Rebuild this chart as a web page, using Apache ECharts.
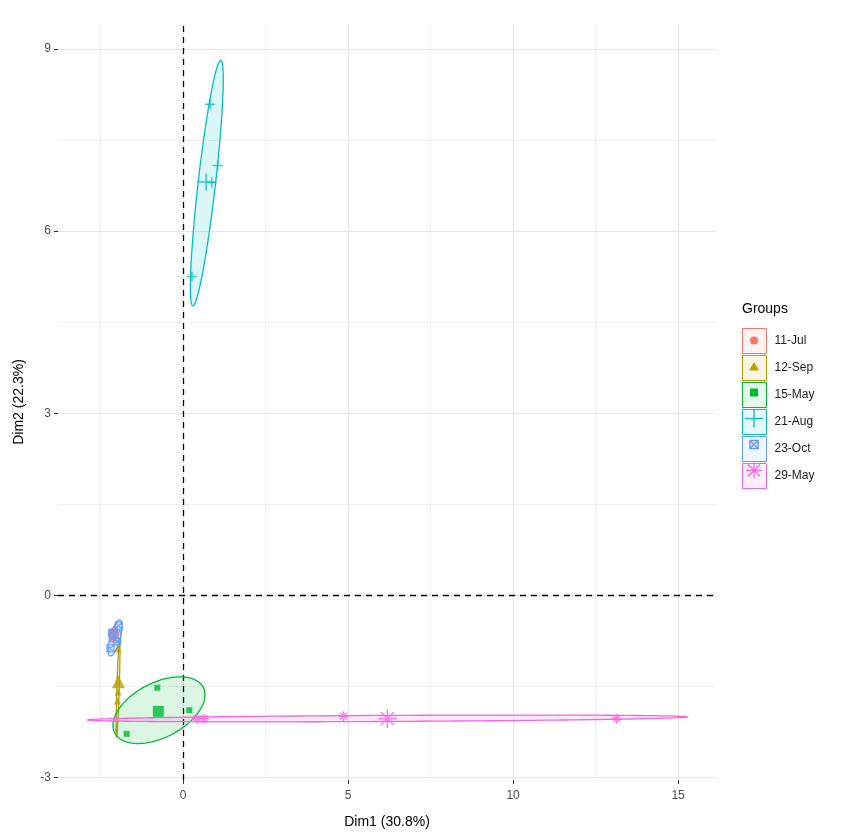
<!DOCTYPE html>
<html><head><meta charset="utf-8">
<script src="https://cdn.jsdelivr.net/npm/echarts@6/dist/echarts.min.js"></script>
<style>html,body{margin:0;padding:0;background:#fff}#c{width:843px;height:834px}</style>
</head><body><div id="c"></div>
<script>
const groups = ['11-Jul','12-Sep','15-May','21-Aug','23-Oct','29-May'];
const colors = ['#F8766D','#B79F00','#00BA38','#00BFC4','#619CFF','#F564E3'];

// individuals
const jul11X = [-2.12, -2.09, -2.05];
const jul11Y = [-0.58, -0.70, -0.64];
const sep12X = [-1.98, -1.97, -1.99];
const sep12Y = [-0.88, -1.59, -1.74];
const may15X = [-0.78, 0.19, -1.71];
const may15Y = [-1.52, -1.89, -2.28];
const aug21X = [0.82, 1.05, 0.87, 0.27];
const aug21Y = [8.09, 7.08, 6.80, 5.25];
const oct23X = [-1.95, -2.20, -2.00, -2.15];
const oct23Y = [-0.50, -0.87, -0.76, -0.62];
const may29X = [0.42, 0.64, 4.86, 13.14];
const may29Y = [-2.03, -2.03, -1.99, -2.03];

// group means
const meanX = [-2.10, -1.96, -0.75, 0.70, -2.06, 6.19];
const meanY = [-0.64, -1.42, -1.91, 6.81, -0.67, -2.03];

// ellipses: centre + two conjugate semi-axis vectors (data units)
const ellCX = [-2.10, -1.97, -0.73, 0.72, -2.06, 6.20];
const ellCY = [-0.64, -1.53, -1.89, 6.79, -0.70, -2.026];
const ellUX = [0.06, 0.045, 1.34, 0.424, 0.15, 9.09];
const ellUY = [0.13, 0.805, 0.376, 2.021, 0.296, 0.025];
const ellVX = [0.09, 0.036, 0.383, 0.262, 0.15, 0];
const ellVY = [-0.012, 0, -0.401, -0.016, -0.02, -0.05];

// axes
const xTicks = [0, 5, 10, 15];
const yTicks = [-3, 0, 3, 6, 9];
const xMinor = [-2.5, 2.5, 7.5, 12.5];
const yMinor = [-1.5, 1.5, 4.5, 7.5];
const xRange = [-3.79, 16.15];
const yRange = [-3.04, 9.41];

const ptsX = [jul11X, sep12X, may15X, aug21X, oct23X, may29X];
const ptsY = [jul11Y, sep12Y, may15Y, aug21Y, oct23Y, may29Y];

const PLUS = 'path://M0,5L10,5M5,0L5,10';
const SQX = 'path://M0,0L10,0L10,10L0,10ZM0,0L10,10M10,0L0,10';
const AST = 'path://M0,5L10,5M5,0L5,10M1.5,1.5L8.5,8.5M8.5,1.5L1.5,8.5';
const symbols = ['circle', 'triangle', 'rect', PLUS, SQX, AST];
const outlined = [false, false, false, true, true, true];
const smallSize = [6, 7, 6, 10, 7, 10];
const bigSize = [11, 13, 11, 17, 11, 19];

function tint(hex, a){
  const n = parseInt(hex.slice(1), 16);
  return 'rgba(' + ((n>>16)&255) + ',' + ((n>>8)&255) + ',' + (n&255) + ',' + a + ')';
}
function pStyle(i){
  return outlined[i] ? {color:'transparent', borderColor:colors[i], borderWidth:1.5}
                     : {color:colors[i], borderWidth:0};
}

const FONT = 'Liberation Sans, Arial, sans-serif';
const series = [];

// grid lines and zero lines
series.push({
  type:'line', data:[], silent:true, z:0,
  markLine:{silent:true, z:0, symbol:['none','none'], label:{show:false}, animation:false,
    data: xMinor.map(v=>({xAxis:v, lineStyle:{color:'#F0F0F0', width:1, type:'solid'}}))
      .concat(yMinor.map(v=>({yAxis:v, lineStyle:{color:'#F0F0F0', width:1, type:'solid'}})))
      .concat(xTicks.map(v=>({xAxis:v, lineStyle:{color:'#E6E6E6', width:1, type:'solid'}})))
      .concat(yTicks.map(v=>({yAxis:v, lineStyle:{color:'#E6E6E6', width:1, type:'solid'}})))
  }
});
series.push({
  type:'line', data:[], silent:true, z:1,
  markLine:{silent:true, z:1, symbol:['none','none'], label:{show:false}, animation:false,
    lineStyle:{color:'#000', width:1.3, type:[6,5]},
    data:[{xAxis:0},{yAxis:0}]
  }
});

groups.forEach((g, i) => {
  series.push({
    type:'custom', name:g, coordinateSystem:'cartesian2d', silent:true, z:3,
    data:[[ellCX[i], ellCY[i], ellUX[i], ellUY[i], ellVX[i], ellVY[i]]],
    encode:{x:0, y:1},
    renderItem:function(params, api){
      const cx=api.value(0), cy=api.value(1), ux=api.value(2), uy=api.value(3), vx=api.value(4), vy=api.value(5);
      const pts=[];
      for(let k=0;k<160;k++){
        const t=2*Math.PI*k/160;
        pts.push(api.coord([cx+ux*Math.cos(t)+vx*Math.sin(t), cy+uy*Math.cos(t)+vy*Math.sin(t)]));
      }
      return {type:'polygon', shape:{points:pts}, style:{fill:tint(colors[i],0.14), stroke:colors[i], lineWidth:1.3}};
    }
  });
});
groups.forEach((g, i) => {
  series.push({
    type:'scatter', name:g, silent:true, z:4, animation:false,
    data: ptsX[i].map((x,k)=>[x, ptsY[i][k]]),
    symbol:symbols[i], symbolSize:smallSize[i], itemStyle:pStyle(i)
  });
  series.push({
    type:'scatter', name:g, silent:true, z:4, animation:false,
    data:[[meanX[i], meanY[i]]],
    symbol:symbols[i], symbolSize:bigSize[i], itemStyle:pStyle(i)
  });
});

// legend symbols overlay
const LG_LEFT = 742, LG_TOP = 328, KEY_W = 24, KEY_H = 25, KEY_GAP = 1;
const graphics = [{type:'text', left:LG_LEFT, top:302, style:{text:'Groups', fontSize:14, fill:'#000', fontFamily:FONT}}];
groups.forEach((g, i) => {
  const cx = LG_LEFT + KEY_W/2, cy = LG_TOP + KEY_H/2 + i*(KEY_H+KEY_GAP);
  const c = colors[i];
  const ln = (x1,y1,x2,y2)=>({type:'line', shape:{x1,y1,x2,y2}, style:{stroke:c, lineWidth:1.3}, z:100});
  if(i===0) graphics.push({type:'circle', shape:{cx, cy, r:4}, style:{fill:c}, z:100});
  if(i===1) graphics.push({type:'polygon', shape:{points:[[cx,cy-4.5],[cx+5,cy+4],[cx-5,cy+4]]}, style:{fill:c}, z:100});
  if(i===2) graphics.push({type:'rect', shape:{x:cx-4, y:cy-4, width:8, height:8}, style:{fill:c}, z:100});
  if(i===3){ graphics.push(ln(cx-9,cy,cx+9,cy)); graphics.push(ln(cx,cy-9,cx,cy+9)); }
  if(i===4){
    graphics.push({type:'rect', shape:{x:cx-4, y:cy-4, width:8, height:8}, style:{fill:'none', stroke:c, lineWidth:1.6}, z:100});
    graphics.push(ln(cx-4,cy-4,cx+4,cy+4)); graphics.push(ln(cx+4,cy-4,cx-4,cy+4));
  }
  if(i===5){
    graphics.push(ln(cx-8,cy,cx+8,cy)); graphics.push(ln(cx,cy-8,cx,cy+8));
    graphics.push(ln(cx-6,cy-6,cx+6,cy+6)); graphics.push(ln(cx+6,cy-6,cx-6,cy+6));
  }
});

const chart = echarts.init(document.getElementById('c'), null, {renderer:'canvas'});
chart.setOption({
  animation:false,
  backgroundColor:'#fff',
  textStyle:{fontFamily:FONT},
  grid:{left:58, right:127, top:24, bottom:52, containLabel:false},
  xAxis:{type:'value', min:xRange[0], max:xRange[1],
    splitLine:{show:false}, axisLine:{show:true, onZero:false, lineStyle:{color:'rgba(0,0,0,0)'}},
    axisTick:{show:true, customValues:xTicks, length:4, lineStyle:{color:'#333', width:1}},
    axisLabel:{customValues:xTicks, color:'#4D4D4D', fontSize:12, margin:10, fontFamily:FONT},
    name:'Dim1 (30.8%)', nameLocation:'middle', nameGap:35,
    nameTextStyle:{color:'#000', fontSize:14, fontFamily:FONT}},
  yAxis:{type:'value', min:yRange[0], max:yRange[1],
    splitLine:{show:false}, axisLine:{show:true, onZero:false, lineStyle:{color:'rgba(0,0,0,0)'}},
    axisTick:{show:true, customValues:yTicks, length:4, lineStyle:{color:'#333', width:1}},
    axisLabel:{customValues:yTicks, color:'#4D4D4D', fontSize:12, margin:7, fontFamily:FONT},
    name:'Dim2 (22.3%)', nameLocation:'middle', nameGap:32,
    nameTextStyle:{color:'#000', fontSize:14, fontFamily:FONT}},
  legend:{orient:'vertical', left:LG_LEFT, top:LG_TOP, itemWidth:KEY_W, itemHeight:KEY_H, itemGap:KEY_GAP,
    padding:0, selectedMode:false,
    textStyle:{fontSize:12, color:'#1a1a1a', fontFamily:FONT, padding:[0,0,0,3]},
    data: groups.map((g,i)=>({name:g, icon:'rect', itemStyle:{color:tint(colors[i],0.1), borderColor:colors[i], borderWidth:1}}))},
  graphic:graphics,
  series:series
});
</script></body></html>
